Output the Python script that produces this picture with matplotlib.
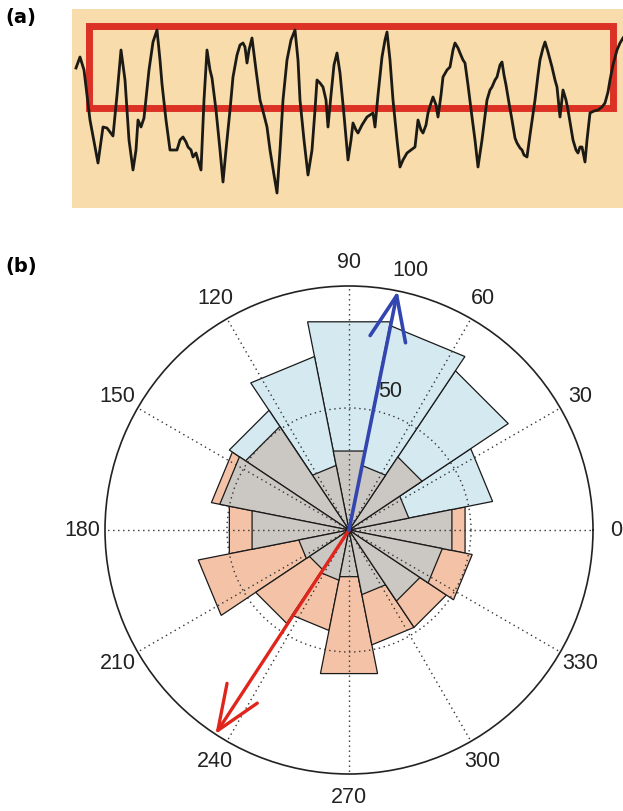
import matplotlib
matplotlib.use('Agg')
import matplotlib.pyplot as plt
from matplotlib.patches import Rectangle
import numpy as np

# ---- panel (a): raw trace ----
sig_t = [76, 80, 84, 90, 98, 103, 107, 110, 113, 117, 121, 125, 129, 133, 136, 138, 141, 144, 149, 153,
         157, 160, 162, 166, 170, 174, 177, 180, 183, 186, 188, 191, 193, 196, 198, 201, 204, 207, 210, 212,
         216, 220, 223, 226, 230, 233, 237, 240, 243, 245, 247, 249, 252, 256, 260, 264, 267, 270, 274, 277,
         280, 283, 287, 291, 295, 298, 300, 304, 308, 312, 315, 317, 320, 323, 326, 328, 331, 334, 337, 340,
         344, 348, 351, 353, 356, 358, 362, 367, 370, 373, 375, 378, 382, 385, 387, 390, 393, 397, 400, 403,
         407, 411, 415, 418, 421, 423, 426, 428, 431, 433, 436, 438, 441, 443, 447, 450, 453, 455, 458, 460,
         463, 465, 468, 472, 475, 478, 482, 487, 490, 492, 495, 497, 500, 502, 504, 506, 509, 512, 515, 517,
         520, 522, 524, 527, 530, 535, 538, 540, 543, 545, 548, 552, 555, 557, 560, 563, 566, 568, 571, 573,
         576, 578, 580, 582, 585, 587, 590, 594, 598, 602, 605, 608, 610, 613, 617, 620, 623]
sig_v = [132, 143, 130, 80, 37, 73, 72, 68, 64, 105, 150, 120, 60, 30, 50, 80, 73, 82, 130, 158,
         170, 140, 116, 80, 50, 50, 50, 60, 63, 58, 53, 50, 43, 47, 40, 30, 100, 150, 130, 122,
         90, 50, 18, 50, 90, 123, 145, 155, 157, 153, 137, 150, 162, 130, 100, 85, 73, 50, 25, 7,
         50, 100, 140, 160, 170, 140, 100, 60, 25, 50, 90, 120, 117, 113, 100, 73, 105, 135, 147, 127,
         85, 40, 60, 77, 70, 67, 75, 83, 85, 87, 73, 105, 143, 160, 168, 140, 100, 60, 33, 40,
         47, 50, 53, 80, 70, 67, 75, 87, 97, 103, 95, 83, 105, 123, 130, 133, 150, 157, 152, 147,
         140, 137, 115, 83, 60, 33, 60, 100, 110, 113, 120, 123, 135, 138, 125, 115, 97, 80, 62, 57,
         52, 50, 45, 43, 65, 100, 125, 140, 152, 158, 148, 133, 120, 113, 83, 110, 100, 90, 72, 60,
         50, 47, 53, 53, 38, 60, 87, 89, 90, 93, 97, 108, 120, 135, 150, 157, 162]
box_t = [89, 613]
box_v = [92, 174]

# ---- panel (b): rose histograms (16 bins of 22.5 deg) ----
bin_deg = np.arange(0, 360, 22.5)
gray_r = [43, 25, 36, 27, 33, 27, 51, 54, 40.5, 21, 19.5, 21, 19.5, 27, 35, 39]
blue_r = [0, 60, 78.5, 85.5, 87, 72.5, 59, 0, 0, 0, 0, 0, 0, 0, 0, 0]
salmon_r = [48.5, 0, 0, 0, 0, 0, 0, 57.5, 50, 63, 46, 42, 60, 48, 48, 51.5]
blue_dir, red_dir = 78.5, 236.8
angle_ticks = list(range(0, 360, 30))

fig = plt.figure(figsize=(6.23, 8.11), dpi=100)
W, H = 623, 811

# panel (a)
ax_a = fig.add_axes([71.7 / W, 1 - 208 / H, (W - 71.7) / W, (208 - 9.3) / H])
ax_a.set_facecolor('#f8dcab')
ax_a.add_patch(Rectangle((box_t[0], box_v[0]), box_t[1] - box_t[0], box_v[1] - box_v[0],
                         fill=False, edgecolor='#db3225', lw=5, zorder=1))
ax_a.plot(sig_t, sig_v, color='#1c1a14', lw=2.0, zorder=2)
ax_a.set_xlim(71.7, 623)
ax_a.set_ylim(-8, 190.7)
ax_a.set_xticks([])
ax_a.set_yticks([])
for s in ax_a.spines.values():
    s.set_visible(False)

# panel (b)
ax = fig.add_axes([105 / W, 1 - 774 / H, 488 / W, 488 / H], projection='polar')
ax.set_ylim(0, 100)
half = np.deg2rad(22.5) / 2
for vals, col in [(salmon_r, '#f4c3a7'), (blue_r, '#d5e9f1'), (gray_r, '#cbc7c2')]:
    for d, v in zip(bin_deg, vals):
        if v <= 0:
            continue
        t = np.deg2rad(d)
        ax.fill([0, t - half, t + half, 0], [0, v, v, 0], facecolor=col,
                edgecolor='#1a1a1a', lw=0.9)

ax.set_xticks(np.deg2rad(angle_ticks))
ax.set_xticklabels([])
ax.set_yticks([50])
ax.set_yticklabels([])
ax.grid(True, color='#333333', linestyle=(0, (1, 2.6)), linewidth=1.0)
ax.spines['polar'].set_linewidth(1.2)
ax.spines['polar'].set_color('#222222')

lab_font = ['Liberation Sans Narrow', 'Liberation Sans', 'DejaVu Sans']
for a in angle_ticks:
    ax.text(np.deg2rad(a), 109.5, str(a), ha='center', va='center', fontsize=15.5,
            family=lab_font, color='#222222')
ax.text(np.deg2rad(78), 58, '50', ha='left', va='center', fontsize=15.5, family=lab_font, color='#222222')
ax.text(np.deg2rad(80.5), 108, '100', ha='left', va='center', fontsize=15.5, family=lab_font, color='#222222')

ax.annotate('', xy=(np.deg2rad(red_dir), 100), xytext=(0, 0),
            arrowprops=dict(arrowstyle='->,head_length=3.2,head_width=1.3', color='#e0261c',
                            lw=2.4, shrinkA=0, shrinkB=0))
ax.annotate('', xy=(np.deg2rad(blue_dir), 100), xytext=(0, 0),
            arrowprops=dict(arrowstyle='->,head_length=3.2,head_width=1.3', color='#3346b0',
                            lw=2.6, shrinkA=0, shrinkB=0))

fig.text(5 / W, 1 - 8 / H, '(a)', fontsize=14, fontweight='bold', ha='left', va='top')
fig.text(5 / W, 1 - 257 / H, '(b)', fontsize=14, fontweight='bold', ha='left', va='top')

fig.savefig('out.png', dpi=100)
plt.close(fig)
